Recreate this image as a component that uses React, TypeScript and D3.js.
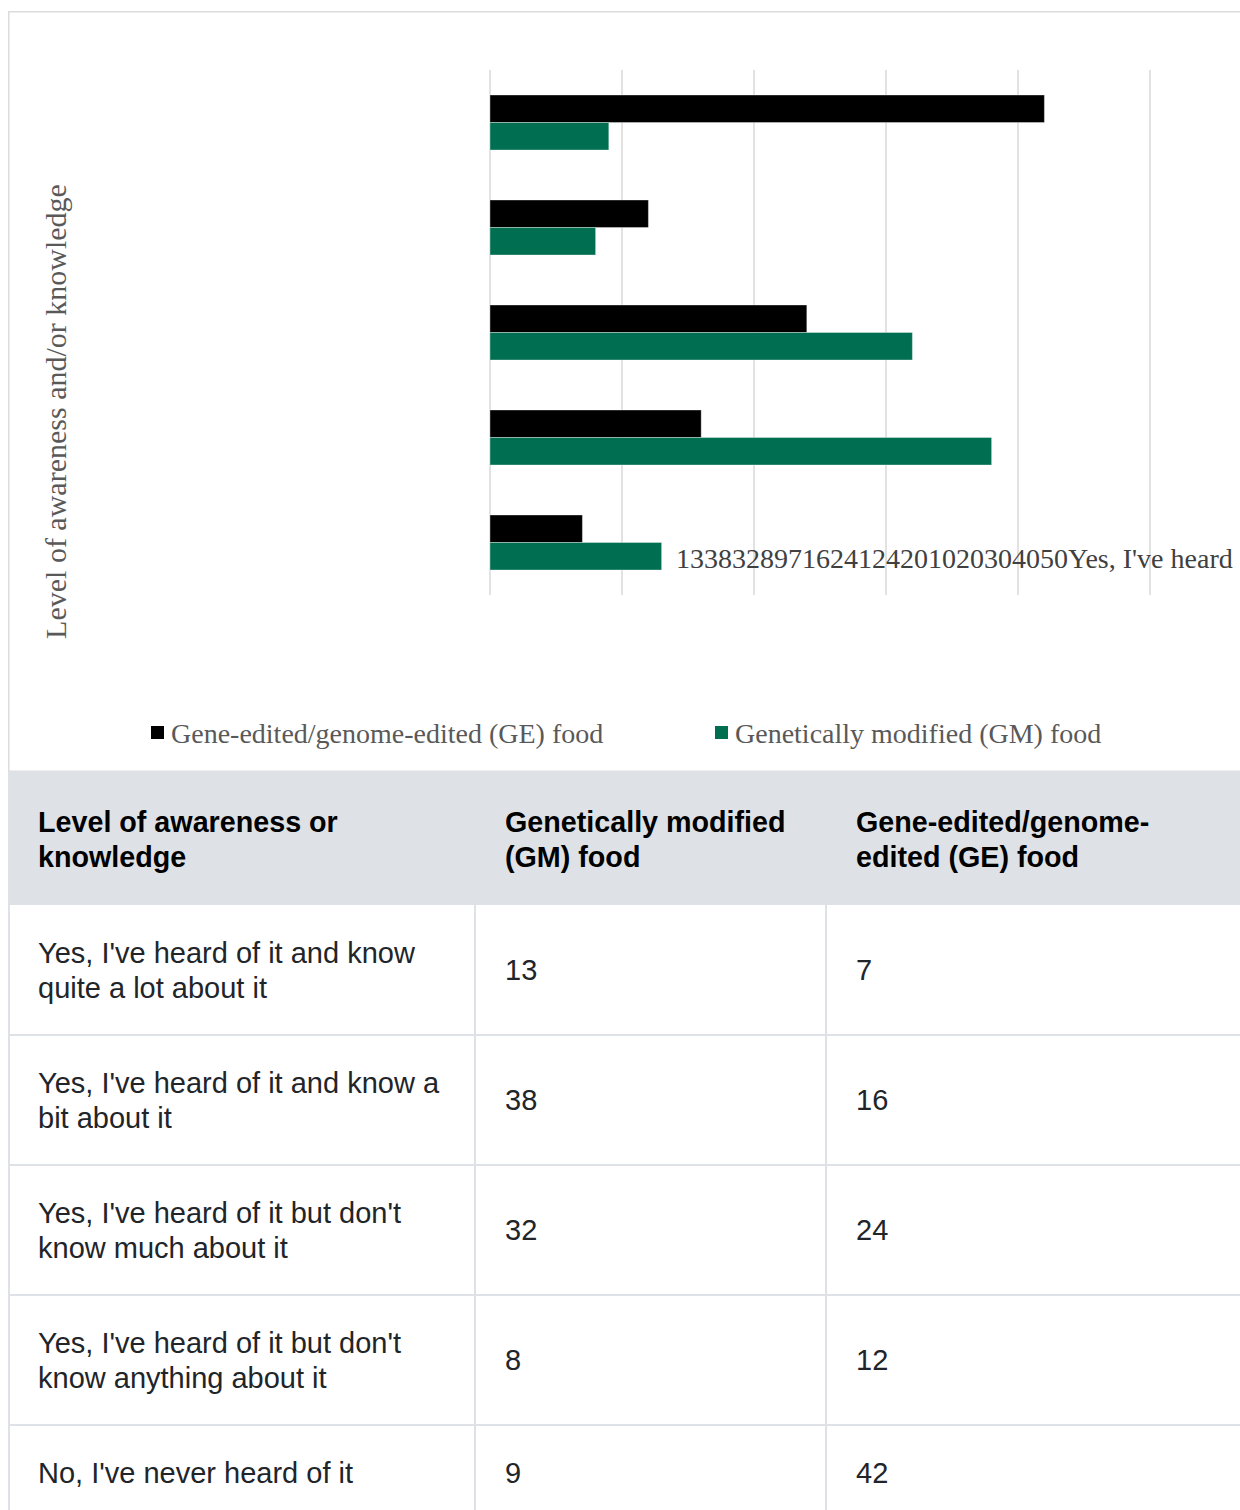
import React, { useMemo } from "react";
import * as d3 from "d3";

// ---------- data ----------
const categories = [
  "Yes, I've heard of it and know quite a lot about it",
  "Yes, I've heard of it and know a bit about it",
  "Yes, I've heard of it but don't know much about it",
  "Yes, I've heard of it but don't know anything about it",
  "No, I've never heard of it",
];
const gmValues = [13, 38, 32, 8, 9];
const geValues = [7, 16, 24, 12, 42];
const xTicks = [0, 10, 20, 30, 40, 50];
const seriesKeys = ["GE", "GM"];
const seriesNames = ["Gene-edited/genome-edited (GE) food", "Genetically modified (GM) food"];
const seriesColors = ["#000000", "#006e50"];
const axisTitle = "Level of awareness and/or knowledge";
const tableHeaders = [
  "Level of awareness or knowledge",
  "Genetically modified (GM) food",
  "Gene-edited/genome-edited (GE) food",
];

const SERIF = "'Liberation Serif', 'Times New Roman', Times, serif";
const SANS = "'Liberation Sans', Arial, Helvetica, sans-serif";
const HFS = 28.7;
const BFS = 29;

function makeWrapper() {
  const canvas = document.createElement("canvas");
  const ctx = canvas.getContext("2d")!;
  return (text: string, maxW: number, font: string) => {
    ctx.font = font;
    const tokens = text.split(/(?<=[\s-])/);
    const lines: string[] = [];
    let cur = "";
    for (const t of tokens) {
      const test = cur + t;
      if (cur && ctx.measureText(test.trimEnd()).width > maxW) {
        lines.push(cur.trimEnd());
        cur = t;
      } else cur = test;
    }
    if (cur) lines.push(cur.trimEnd());
    return lines;
  };
}

export default function App() {
  const x = d3.scaleLinear().domain([0, 50]).range([490, 1150]);
  const y0 = d3.scaleBand<string>().domain([...categories].reverse()).range([70, 595]);
  const y1 = d3
    .scaleBand<string>()
    .domain(seriesKeys)
    .range([0, y0.bandwidth()])
    .paddingOuter(0.909);

  const rows = categories.map((c, i) => ({ cat: c, GM: gmValues[i], GE: geValues[i] }));
  const brokenLabel = [...gmValues, ...geValues, ...xTicks, ...categories].join("");

  const wrap = useMemo(() => makeWrapper(), []);
  const colX = [8, 475, 826, 1300];
  const colContent = [407, 291, 320];
  const headerTop = 771;
  const headerH = 134;
  const rowHeights = [130, 130, 130, 130, 95];
  const rowTops: number[] = [];
  let acc = headerTop + headerH;
  rowHeights.forEach((h) => {
    rowTops.push(acc);
    acc += h;
  });
  const lineH = 35;

  const renderLines = (lines: string[], cx: number, cy: number, bold: boolean, key: string) => {
    const n = lines.length;
    const firstBase = cy - ((n - 1) * lineH) / 2 + 10;
    return (
      <text
        key={key}
        x={cx}
        fontFamily={SANS}
        fontSize={bold ? HFS : BFS}
        fontWeight={bold ? 700 : 400}
        fill={bold ? "#000" : "#212529"}
      >
        {lines.map((l, i) => (
          <tspan key={i} x={cx} y={firstBase + i * lineH}>
            {l}
          </tspan>
        ))}
      </text>
    );
  };

  return (
    <div
      style={{
        position: "absolute",
        left: 0,
        top: 0,
        width: 1240,
        height: 1510,
        overflow: "hidden",
        background: "#fff",
      }}
    >
      <svg width={1240} height={1510} style={{ display: "block" }}>
        <rect x={0} y={0} width={1240} height={1510} fill="#fff" />
        {/* chart frame */}
        <rect x={8.75} y={11.75} width={1300} height={759.5} fill="#fff" stroke="#dcdcdc" strokeWidth={1.5} />

        {/* gridlines */}
        {xTicks.map((t) => (
          <line key={t} x1={x(t)} x2={x(t)} y1={70} y2={595} stroke="#d9d9d9" strokeWidth={1.5} />
        ))}

        {/* bars */}
        {rows.map((r) => (
          <g key={r.cat} transform={`translate(0,${y0(r.cat)})`}>
            {seriesKeys.map((k, si) => (
              <rect
                key={k}
                x={x(0)}
                y={y1(k)}
                width={x((r as any)[k]) - x(0)}
                height={y1.bandwidth()}
                fill={seriesColors[si]}
                stroke="rgba(255,255,255,0.35)"
                strokeWidth={1}
              />
            ))}
          </g>
        ))}

        {/* concatenated label */}
        <text x={676} y={568} fontFamily={SERIF} fontSize={28} fill="#404040" style={{ whiteSpace: "pre" }}>
          {brokenLabel}
        </text>

        {/* axis title */}
        <text
          transform={`translate(66,${(70 + 595) / 2 + 79}) rotate(-90)`}
          textAnchor="middle"
          fontFamily={SERIF}
          fontSize={30}
          fill="#595959"
        >
          {axisTitle}
        </text>

        {/* legend */}
        {[151, 715].map((lx, i) => (
          <g key={i}>
            <rect x={lx} y={726} width={13} height={13} fill={seriesColors[i]} />
            <text x={lx + 20} y={742.5} fontFamily={SERIF} fontSize={28} fill="#595959">
              {seriesNames[i]}
            </text>
          </g>
        ))}

        {/* table header */}
        <rect x={8} y={headerTop} width={1300} height={headerH} fill="#dee2e6" />
        {tableHeaders.map((h, i) =>
          renderLines(
            wrap(h, colContent[i], `700 ${HFS}px ${SANS}`),
            colX[i] + 30,
            headerTop + headerH / 2 + 1,
            true,
            "h" + i
          )
        )}

        {/* table body */}
        {rows.map((r, ri) => {
          const top = rowTops[ri];
          const cy = top + rowHeights[ri] / 2;
          return (
            <g key={"r" + ri}>
              {renderLines(wrap(r.cat, colContent[0], `400 ${BFS}px ${SANS}`), colX[0] + 30, cy, false, "c0")}
              {renderLines([String(r.GM)], colX[1] + 30, cy, false, "c1")}
              {renderLines([String(r.GE)], colX[2] + 30, cy, false, "c2")}
            </g>
          );
        })}
        {rowTops.slice(1).map((t) => (
          <line key={"hl" + t} x1={8} x2={1300} y1={t} y2={t} stroke="#dee2e6" strokeWidth={2} />
        ))}
        {[colX[1], colX[2]].map((cx) => (
          <line key={"vl" + cx} x1={cx} x2={cx} y1={headerTop + headerH} y2={1520} stroke="#dee2e6" strokeWidth={2} />
        ))}
        <line x1={9} x2={9} y1={headerTop} y2={1520} stroke="#dee2e6" strokeWidth={2} />
      </svg>
    </div>
  );
}
